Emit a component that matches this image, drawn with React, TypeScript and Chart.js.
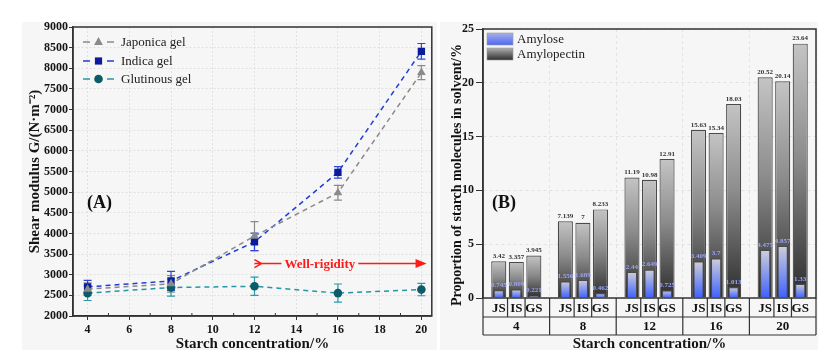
import React, { useEffect, useRef } from 'react';
import { Chart, registerables } from 'chart.js';
Chart.register(...registerables);

const SERIF = "'Liberation Serif', 'Times New Roman', serif";

// ---------- Panel A data ----------
const concentrations = [4, 8, 12, 16, 20];
const xTickValues = [4, 6, 8, 10, 12, 14, 16, 18, 20];
const japonicaGel = [2650, 2780, 3935, 4985, 7895];
const japonicaErr = [150, 200, 350, 180, 170];
const indicaGel = [2705, 2850, 3795, 5480, 8410];
const indicaErr = [160, 230, 210, 140, 190];
const glutinousGel = [2555, 2690, 2720, 2555, 2640];
const glutinousErr = [180, 210, 220, 220, 150];
const seriesNamesA = ['Japonica gel', 'Indica gel', 'Glutinous gel'];
const rigidityRange = [12, 20.25];
const rigidityLevel = 3270;

// ---------- Panel B data ----------
const groupLabels = ['4', '8', '12', '16', '20'];
const starchTypes = ['JS', 'IS', 'GS'];
const totalJS = [3.42, 7.139, 11.19, 15.63, 20.52];
const totalIS = [3.357, 7, 10.98, 15.34, 20.14];
const totalGS = [3.945, 8.233, 12.91, 18.03, 23.64];
const amyloseJS = [0.745, 1.556, 2.44, 3.409, 4.475];
const amyloseIS = [0.809, 1.689, 2.649, 3.7, 4.857];
const amyloseGS = [0.221, 0.462, 0.725, 1.013, 1.33];

const lineColors = ['#8a8a8a', '#1f3fd6', '#2596a6'];
const markerColors = ['#8a8a8a', '#0c1a9c', '#0b5b68'];
const errColors = ['#8a8a8a', '#2a48d8', '#2a9aaa'];
const markerStyles = ['triangle', 'rect', 'circle'];

function drawMarker(c: CanvasRenderingContext2D, style: string, x: number, y: number, color: string) {
  c.save();
  c.fillStyle = color;
  c.beginPath();
  if (style === 'triangle') {
    c.moveTo(x, y - 5);
    c.lineTo(x + 4.4, y + 3);
    c.lineTo(x - 4.4, y + 3);
    c.closePath();
  } else if (style === 'rect') {
    c.rect(x - 3.6, y - 3.6, 7.2, 7.2);
  } else {
    c.arc(x, y, 4.3, 0, Math.PI * 2);
  }
  c.fill();
  c.restore();
}

const tickFont = { family: SERIF, weight: 'bold' as const, size: 12 };
const titleFont = { family: SERIF, weight: 'bold' as const, size: 15 };
const plainNumber = (v: any) => String(v);

function configA(): any {
  const seriesVals = [japonicaGel, indicaGel, glutinousGel];
  const errs = [japonicaErr, indicaErr, glutinousErr];
  const plugin = {
    id: 'panelA',
    beforeDraw(chart: any) {
      const c = chart.ctx;
      c.save();
      c.fillStyle = '#f6f6f6';
      c.fillRect(22, 22, 415, 328);
      c.restore();
    },
    beforeDatasetsDraw(chart: any) {
      const c = chart.ctx;
      const ys = chart.scales.y;
      errs.forEach((err, di) => {
        const meta = chart.getDatasetMeta(di);
        c.save();
        c.strokeStyle = errColors[di];
        c.lineWidth = 1.2;
        meta.data.forEach((pt: any, j: number) => {
          const v = seriesVals[di][j];
          const yt = ys.getPixelForValue(v + err[j]);
          const yb = ys.getPixelForValue(v - err[j]);
          c.beginPath();
          c.moveTo(pt.x, yt); c.lineTo(pt.x, yb);
          c.moveTo(pt.x - 4, yt); c.lineTo(pt.x + 4, yt);
          c.moveTo(pt.x - 4, yb); c.lineTo(pt.x + 4, yb);
          c.stroke();
        });
        c.restore();
      });
    },
    afterDraw(chart: any) {
      const c = chart.ctx;
      const { left, right, top, bottom } = chart.chartArea;
      const xs = chart.scales.x, ys = chart.scales.y;
      c.save();
      c.strokeStyle = '#333';
      c.lineWidth = 1.5;
      c.strokeRect(left, top, right - left, bottom - top);
      c.lineWidth = 1;
      for (let k = 0; k < xTickValues.length - 1; k++) {
        const mx = xs.getPixelForValue((xTickValues[k] + xTickValues[k + 1]) / 2);
        c.beginPath(); c.moveTo(mx, bottom); c.lineTo(mx, bottom - 3); c.stroke();
      }
      const rows = [42, 61, 79];
      c.font = `13px ${SERIF}`;
      c.textBaseline = 'middle';
      seriesNamesA.forEach((name, i) => {
        const y = rows[i];
        c.strokeStyle = lineColors[i];
        c.lineWidth = 1.5;
        c.beginPath();
        c.moveTo(83, y); c.lineTo(90, y);
        c.moveTo(107, y); c.lineTo(114, y);
        c.stroke();
        drawMarker(c, markerStyles[i], 98.5, y, markerColors[i]);
        c.fillStyle = '#222';
        c.textAlign = 'left';
        c.fillText(name, 121, y + 1);
      });
      c.font = `bold 18px ${SERIF}`;
      c.fillStyle = '#111';
      c.textAlign = 'left';
      c.fillText('(A)', 87, 203);
      const x0 = xs.getPixelForValue(rigidityRange[0]);
      const x1 = xs.getPixelForValue(rigidityRange[1]);
      const y = ys.getPixelForValue(rigidityLevel);
      const red = '#ff1a1a';
      c.strokeStyle = red;
      c.fillStyle = red;
      c.lineWidth = 1.5;
      c.font = `bold 13px ${SERIF}`;
      const label = 'Well-rigidity';
      const tw = c.measureText(label).width;
      const tl = x0 + 30;
      c.beginPath();
      c.moveTo(x0, y - 4); c.lineTo(x0 + 7, y); c.lineTo(x0, y + 4);
      c.moveTo(x0, y); c.lineTo(tl - 3, y);
      c.moveTo(tl + tw + 3, y); c.lineTo(x1 - 8, y);
      c.stroke();
      c.beginPath();
      c.moveTo(x1, y); c.lineTo(x1 - 11, y - 4.5); c.lineTo(x1 - 11, y + 4.5); c.closePath();
      c.fill();
      c.textAlign = 'left';
      c.textBaseline = 'middle';
      c.fillText(label, tl, y + 1);
      c.restore();
    },
  };

  return {
    type: 'line',
    data: {
      datasets: seriesVals.map((vals, i) => ({
        label: seriesNamesA[i],
        data: concentrations.map((x, j) => ({ x, y: vals[j] })),
        borderColor: lineColors[i],
        backgroundColor: markerColors[i],
        pointBackgroundColor: markerColors[i],
        pointBorderColor: markerColors[i],
        pointBorderWidth: 0,
        pointStyle: markerStyles[i],
        pointRadius: i === 0 ? 5 : i === 1 ? 5.2 : 4.3,
        borderDash: [5, 4],
        borderWidth: 1.5,
        fill: false,
        tension: 0,
      })),
    },
    options: {
      responsive: false,
      animation: false,
      events: [],
      layout: { padding: { left: 0, right: 4, top: 27, bottom: 0 } },
      plugins: { legend: { display: false }, tooltip: { enabled: false } },
      scales: {
        x: {
          type: 'linear',
          min: 3.3,
          max: 20.5,
          afterBuildTicks: (s: any) => { s.ticks = xTickValues.map((v) => ({ value: v })); },
          afterFit: (s: any) => { s.height = 43; },
          ticks: { font: tickFont, color: '#151515', padding: 3, maxRotation: 0, callback: plainNumber },
          grid: { color: '#dcdcdc', lineWidth: 0.8, tickLength: 4, tickColor: '#333', tickWidth: 1, tickBorderDash: [] },
          border: { display: true, color: '#333', width: 1.5, dash: [2, 2] },
          title: { display: true, text: 'Starch concentration/%', font: titleFont, color: '#151515', padding: { top: 0, bottom: 6 } },
        },
        y: {
          min: 2000,
          max: 9000,
          afterFit: (s: any) => { s.width = 73; },
          ticks: { stepSize: 500, font: tickFont, color: '#151515', padding: 1, callback: plainNumber },
          grid: { color: '#dcdcdc', lineWidth: 0.8, tickLength: 4, tickColor: '#333', tickWidth: 1, tickBorderDash: [] },
          border: { display: true, color: '#333', width: 1.5, dash: [2, 2] },
          title: { display: true, text: 'Shear modulus G/(N·m⁻²)', font: titleFont, color: '#151515', padding: { top: 26, bottom: 0 } },
        },
      },
    },
    plugins: [plugin],
  };
}

function makeFill(stops: [number, string][], fallback: string) {
  return (ctx: any) => {
    const chart = ctx.chart;
    if (!chart.chartArea || ctx.raw == null || !chart.scales || !chart.scales.y) return fallback;
    const ys = chart.scales.y;
    const top = ys.getPixelForValue(ctx.raw);
    const base = ys.getPixelForValue(0);
    if (!isFinite(top) || !isFinite(base) || top === base) return fallback;
    const g = chart.ctx.createLinearGradient(0, top, 0, base);
    stops.forEach(([o, col]) => g.addColorStop(o, col));
    return g;
  };
}
const grayStops: [number, string][] = [[0, '#c4c4c4'], [0.45, '#8c8c8c'], [1, '#2c2c2c']];
const blueStops: [number, string][] = [[0, '#cfcfda'], [1, '#3d61ff']];

function configB(): any {
  const totals = [totalJS, totalIS, totalGS];
  const amyloses = [amyloseJS, amyloseIS, amyloseGS];
  const plugin = {
    id: 'panelB',
    beforeDraw(chart: any) {
      const c = chart.ctx;
      c.save();
      c.fillStyle = '#f6f6f6';
      c.fillRect(3, 22, 378, 328);
      c.restore();
    },
    afterDatasetsDraw(chart: any) {
      const c = chart.ctx;
      c.save();
      c.textAlign = 'center';
      c.textBaseline = 'bottom';
      c.font = `bold 7px ${SERIF}`;
      for (let d = 0; d < 6; d++) {
        const meta = chart.getDatasetMeta(d);
        const vals = d < 3 ? totals[d] : amyloses[d - 3];
        c.fillStyle = d < 3 ? '#333' : '#9aa4f8';
        meta.data.forEach((bar: any, j: number) => {
          c.fillText(String(vals[j]), bar.x, bar.y - 1.5);
        });
      }
      c.restore();
    },
    afterDraw(chart: any) {
      const c = chart.ctx;
      const { left, right, top, bottom } = chart.chartArea;
      const xs = chart.scales.x;
      c.save();
      c.strokeStyle = '#333';
      c.lineWidth = 1.5;
      c.strokeRect(left, top, right - left, bottom - top);
      const r1 = bottom + 19, r2 = bottom + 37;
      c.lineWidth = 1.2;
      c.beginPath();
      c.moveTo(left, r1); c.lineTo(right, r1);
      c.moveTo(left, r2); c.lineTo(right, r2);
      c.moveTo(left, bottom); c.lineTo(left, r2);
      c.moveTo(right, bottom); c.lineTo(right, r2);
      for (let i = 1; i < groupLabels.length; i++) {
        const gx = (xs.getPixelForValue(i - 1) + xs.getPixelForValue(i)) / 2;
        c.moveTo(gx, bottom); c.lineTo(gx, r2);
      }
      const metas = [0, 1, 2].map((d) => chart.getDatasetMeta(d));
      groupLabels.forEach((_, i) => {
        for (let k = 0; k < 2; k++) {
          const dx = (metas[k].data[i].x + metas[k + 1].data[i].x) / 2;
          c.moveTo(dx, bottom); c.lineTo(dx, r1);
        }
      });
      c.stroke();
      c.fillStyle = '#111';
      c.textAlign = 'center';
      c.textBaseline = 'middle';
      c.font = `bold 13px ${SERIF}`;
      groupLabels.forEach((g, i) => {
        starchTypes.forEach((s, k) => {
          c.fillText(s, metas[k].data[i].x, (bottom + r1) / 2 + 1);
        });
        c.fillText(g, xs.getPixelForValue(i), (r1 + r2) / 2 + 1);
      });
      c.save();
      c.translate(20, 175);
      c.rotate(-Math.PI / 2);
      c.font = `bold 14px ${SERIF}`;
      c.fillText('Proportion of starch molecules in solvent/%', 0, 0);
      c.restore();
      const sw = (y: number, stops: [number, string][]) => {
        const g = c.createLinearGradient(0, y, 0, y + 12);
        stops.forEach(([o, col]) => g.addColorStop(o, col));
        c.fillStyle = g;
        c.fillRect(50, y, 26, 12);
        c.strokeStyle = '#999';
        c.lineWidth = 0.6;
        c.strokeRect(50, y, 26, 12);
      };
      sw(33, [[0, '#a9b0e6'], [1, '#4d68f4']]);
      sw(48, [[0, '#b0b0b0'], [1, '#2e2e2e']]);
      c.font = `13px ${SERIF}`;
      c.fillStyle = '#222';
      c.textAlign = 'left';
      c.fillText('Amylose', 80, 40);
      c.fillText('Amylopectin', 80, 55);
      c.font = `bold 18px ${SERIF}`;
      c.fillStyle = '#111';
      c.fillText('(B)', 55, 203);
      c.restore();
    },
  };

  return {
    type: 'bar',
    data: {
      labels: groupLabels,
      datasets: [
        ...starchTypes.map((s, i) => ({
          label: 'Amylopectin ' + s,
          data: totals[i],
          stack: s,
          order: 1,
          categoryPercentage: 0.79,
          barPercentage: 0.86,
          backgroundColor: makeFill(grayStops, '#888'),
          borderColor: '#4a4a4a',
          borderWidth: 1.2,
          borderSkipped: 'bottom',
        })),
        ...starchTypes.map((s, i) => ({
          label: 'Amylose ' + s,
          data: amyloses[i],
          stack: s,
          order: 0,
          categoryPercentage: 0.79,
          barPercentage: 0.6,
          backgroundColor: makeFill(blueStops, '#5570f0'),
          borderColor: '#4a4a4a',
          borderWidth: 1.2,
          borderSkipped: 'bottom',
        })),
      ],
    },
    options: {
      responsive: false,
      animation: false,
      events: [],
      layout: { padding: { left: 0, right: 15, top: 29, bottom: 0 } },
      plugins: { legend: { display: false }, tooltip: { enabled: false } },
      scales: {
        x: {
          type: 'category',
          stacked: true,
          offset: true,
          afterFit: (s: any) => { s.height = 61; },
          ticks: { display: false },
          grid: { offset: true, color: '#dedede', lineWidth: 0.8, drawTicks: false },
          border: { display: false, dash: [3, 3] },
          title: { display: true, text: 'Starch concentration/%', font: titleFont, color: '#151515', padding: { top: 0, bottom: 6 } },
        },
        y: {
          stacked: false,
          min: 0,
          max: 25,
          afterFit: (s: any) => { s.width = 46; },
          ticks: { stepSize: 5, font: tickFont, color: '#151515', padding: 2, callback: plainNumber },
          grid: { color: '#dedede', lineWidth: 0.8, tickLength: 7, tickColor: '#333', tickWidth: 1, tickBorderDash: [] },
          border: { display: true, color: '#333', width: 1.5, dash: [3, 3] },
        },
      },
    },
    plugins: [plugin],
  };
}

export default function App() {
  const refA = useRef<HTMLCanvasElement>(null);
  const refB = useRef<HTMLCanvasElement>(null);
  useEffect(() => {
    const a = new Chart(refA.current as HTMLCanvasElement, configA());
    const b = new Chart(refB.current as HTMLCanvasElement, configB());
    return () => {
      a.destroy();
      b.destroy();
    };
  }, []);
  return (
    <div style={{ position: 'absolute', left: 0, top: 0, width: 831, height: 359, background: '#fff' }}>
      <canvas ref={refA} width={437} height={359} style={{ position: 'absolute', left: 0, top: 0 }} />
      <canvas ref={refB} width={394} height={359} style={{ position: 'absolute', left: 437, top: 0 }} />
    </div>
  );
}
